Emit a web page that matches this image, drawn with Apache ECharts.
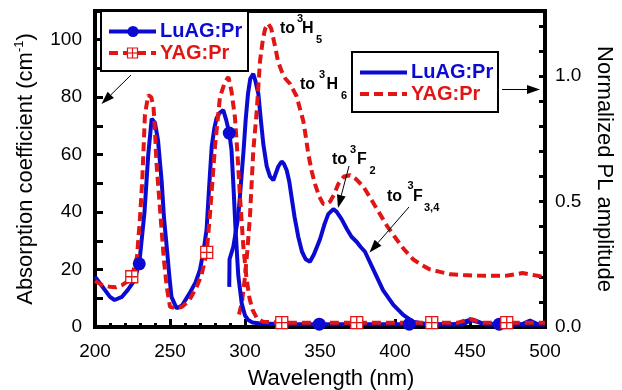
<!DOCTYPE html>
<html>
<head>
<meta charset="utf-8">
<script src="https://cdn.jsdelivr.net/npm/echarts@6/dist/echarts.min.js"></script>
<style>
  html, body { margin: 0; padding: 0; background: #fff; }
  #chart { width: 622px; height: 390px; }
</style>
</head>
<body>
<div id="chart"></div>
<script>
// absorption, left axis (cm^-1)
const luagAbsWl = [200, 205, 210, 213, 218, 222, 226, 229.5, 233, 235.5, 237.8, 240, 242, 244.4, 246, 247.8, 249.5, 251, 254.4, 258, 263, 267, 270, 272.5, 274.4, 276, 277.8, 279.5, 281, 283, 285.5, 287.5, 289.5, 291, 292.2, 293.8, 295.5, 297.8, 300, 302.2, 305, 310, 330, 349.5, 380, 409.5, 440, 450, 458, 469.5, 485, 490, 495, 500]
const luagAbsVal = [17.5, 14, 10.5, 9.4, 10.5, 13, 16, 22, 40, 60, 72.5, 71, 65, 51, 38, 28, 18, 10.5, 6.5, 7.5, 11.7, 15.5, 20, 27, 34, 48, 62.8, 69, 72.6, 74.5, 75.5, 72, 67.5, 61.6, 50, 33, 18, 8.3, 4, 2.4, 1.6, 1.2, 1, 1, 1, 1, 1, 2.5, 1.3, 1, 1, 2.2, 1, 1]
const luagMarkWl = [229.5, 289.5, 349.5, 409.5, 469.5]

const yagAbsWl = [200, 205, 210, 214, 218, 222, 224.5, 228, 230, 231.5, 233.3, 235.5, 237.5, 239, 240, 241, 244.4, 246, 247.8, 250, 254.4, 258, 263, 267.8, 271, 274.5, 276.7, 280, 283.3, 286.7, 289, 291, 293.3, 295, 296.7, 298.9, 301, 303, 305, 308, 312, 324.5, 350, 374.5, 400, 424.5, 442, 450, 458, 474.5, 500]
const yagAbsVal = [16, 14.5, 14, 13.8, 14.6, 16, 17.5, 24.5, 38, 51, 74, 80.7, 80, 76.7, 68, 57, 33.8, 23, 14, 7, 6.5, 7, 9.4, 14, 18, 26, 39.6, 62.8, 80, 85.4, 87, 82, 73, 60, 45, 28, 17, 10, 6, 3, 1.8, 1.5, 1.5, 1.5, 1.5, 1.5, 1.5, 2.8, 1.5, 1.5, 1.5]
const yagMarkWl = [224.5, 274.5, 324.5, 374.5, 424.5, 474.5]

// photoluminescence, right axis (normalized)
const luagPlWl = [289.5, 289.7, 292.2, 295.5, 297, 299, 300.5, 302, 303.5, 305.5, 307, 308.9, 310.5, 312.2, 314.5, 316.7, 318.9, 321, 322.2, 324.4, 326, 327.8, 329.5, 331, 333, 335.5, 338, 340.5, 343.3, 346, 350, 353, 355.5, 358.9, 361, 364.4, 368, 371, 374.4, 377, 380, 385.5, 392, 398.9, 405.5, 412, 421, 430, 445, 452, 460, 500]
const luagPlVal = [0.16, 0.27, 0.32, 0.44, 0.55, 0.7, 0.83, 0.93, 0.99, 1.01, 0.98, 0.93, 0.83, 0.73, 0.64, 0.6, 0.585, 0.62, 0.64, 0.66, 0.65, 0.625, 0.58, 0.52, 0.44, 0.36, 0.3, 0.27, 0.26, 0.29, 0.35, 0.41, 0.45, 0.47, 0.46, 0.43, 0.39, 0.36, 0.34, 0.32, 0.3, 0.23, 0.147, 0.088, 0.048, 0.021, 0.012, 0.01, 0.01, 0.03, 0.01, 0.01]

const yagPlWl = [296, 298, 300, 301.5, 303.3, 305.5, 307.8, 310, 312, 313.5, 315.5, 317.5, 320, 322, 324.4, 327, 330, 334.4, 338.9, 340.5, 342.2, 344.5, 346.7, 349.5, 352.2, 354.5, 356.7, 359.5, 362.2, 366, 370, 374, 378.9, 384, 390, 395, 401, 406, 412, 417, 423, 430, 437, 445.5, 455, 467.8, 475, 485, 490, 498.7, 500]
const yagPlVal = [0.05, 0.1, 0.2, 0.3, 0.44, 0.7, 0.86, 1.06, 1.15, 1.19, 1.21, 1.19, 1.12, 1.06, 1.02, 0.99, 0.97, 0.92, 0.82, 0.76, 0.69, 0.62, 0.57, 0.52, 0.49, 0.49, 0.5, 0.53, 0.57, 0.6, 0.605, 0.59, 0.56, 0.51, 0.45, 0.4, 0.35, 0.31, 0.27, 0.25, 0.23, 0.22, 0.21, 0.207, 0.205, 0.204, 0.205, 0.215, 0.21, 0.2, 0.2]

const BLUE = '#0a0ad2'
const RED = '#e21515'
const FONT = 'Liberation Sans, Arial, sans-serif'
const DASH = [9, 5]
const CROSS_SQ = 'path://M0 0H10V10H0Z M5 0V10 M0 5H10'

const pairs = (xs, ys) => xs.map((x, i) => [x, ys[i]])
// only the marker wavelengths get a symbol
const withMarks = (xs, ys, marks) => xs.map((x, i) => ({
    value: [x, ys[i]],
    symbol: marks.includes(x) ? undefined : 'none'
}))

// little arrow: line + filled head
const arrow = (x1, y1, x2, y2) => {
    const a = Math.atan2(y2 - y1, x2 - x1)
    const L = 13, W = 4.5
    const bx = x2 - L * Math.cos(a), by = y2 - L * Math.sin(a)
    const nx = -Math.sin(a), ny = Math.cos(a)
    return [
        { type: 'line', shape: { x1: x1, y1: y1, x2: bx, y2: by }, style: { stroke: '#000', lineWidth: 1 }, z: 100 },
        { type: 'polygon', shape: { points: [[x2, y2], [bx + nx * W, by + ny * W], [bx - nx * W, by - ny * W]] }, style: { fill: '#000' }, z: 100 }
    ]
}
const txt = (x, y, s, size, color) => ({
    type: 'text', x: x, y: y, z: 100,
    style: { text: s, fill: color || '#000', font: 'bold ' + size + 'px ' + FONT, align: 'left', verticalAlign: 'middle' }
})
// "to ^3X_n" label
const level = (x, y, letter, sub, xs) => [
    txt(x, y, 'to', 16),
    txt(xs[0], y - 10.5, '3', 11),
    txt(xs[1], y, letter, 16),
    txt(xs[2], y + 11, sub, 11)
]

const legendBox = (x, y, w, h, withSymbols) => {
    const els = [
        { type: 'rect', shape: { x: x, y: y, width: w, height: h }, style: { fill: '#fff', stroke: '#000', lineWidth: 2 }, z: 90 }
    ]
    const lx = x + 8, lw = 47
    const y1 = y + 20.5, y2 = y + 42
    els.push({ type: 'line', shape: { x1: lx, y1: y1, x2: lx + lw, y2: y1 }, style: { stroke: BLUE, lineWidth: 4 }, z: 95 })
    els.push({ type: 'line', shape: { x1: lx, y1: y2, x2: lx + lw, y2: y2 }, style: { stroke: RED, lineWidth: 4, lineDash: DASH }, z: 95 })
    if (withSymbols) {
        els.push({ type: 'circle', shape: { cx: lx + 24, cy: y1, r: 5.5 }, style: { fill: BLUE }, z: 96 })
        els.push({ type: 'rect', shape: { x: lx + 18.5, y: y2 - 5, width: 10, height: 10 }, style: { fill: '#fff', stroke: RED, lineWidth: 1.2 }, z: 96 })
        els.push({ type: 'line', shape: { x1: lx + 23.5, y1: y2 - 5, x2: lx + 23.5, y2: y2 + 5 }, style: { stroke: RED, lineWidth: 1.2 }, z: 97 })
        els.push({ type: 'line', shape: { x1: lx + 18.5, y1: y2, x2: lx + 28.5, y2: y2 }, style: { stroke: RED, lineWidth: 1.2 }, z: 97 })
    }
    els.push(txt(lx + lw + 4, y1, 'LuAG:Pr', 20, BLUE))
    els.push(txt(lx + lw + 4, y2, 'YAG:Pr', 20, RED))
    return els
}

const chart = echarts.init(document.getElementById('chart'))

const axisLine = { show: true, lineStyle: { color: '#000', width: 4 } }
const labelStyle = { color: '#000', fontSize: 19, fontFamily: FONT }
const nameStyle = { color: '#000', fontSize: 22, fontFamily: FONT }

const option = {
    animation: false,
    backgroundColor: '#fff',
    grid: {
        left: 95, right: 77, top: 11, bottom: 63,
        outerBoundsMode: 'none',
        show: true, borderColor: '#000', borderWidth: 4, backgroundColor: 'transparent'
    },
    xAxis: {
        type: 'value', min: 200, max: 500, interval: 50,
        name: 'Wavelength (nm)', nameLocation: 'middle', nameGap: 41,
        nameTextStyle: Object.assign({ padding: [0, 0, 0, 22] }, nameStyle),
        axisLine: axisLine,
        axisTick: { show: true, inside: true, length: 8, lineStyle: { color: '#000', width: 3 } },
        minorTick: { show: true, splitNumber: 5, length: 4, lineStyle: { color: '#000', width: 3 } },
        axisLabel: Object.assign({ margin: 15 }, labelStyle),
        splitLine: { show: false }
    },
    yAxis: [
        {
            type: 'value', min: 0, max: 110, interval: 10,
            name: 'Absorption coefficient (cm{sup|-1})', nameLocation: 'middle', nameGap: 53,
            nameTextStyle: Object.assign({
                rich: { sup: { fontSize: 13, fontFamily: FONT, color: '#000', verticalAlign: 'top', lineHeight: 26 } },
                lineHeight: 26
            }, nameStyle),
            axisLine: axisLine,
            axisTick: { show: true, inside: true, length: 8, lineStyle: { color: '#000', width: 3 } },
            axisLabel: Object.assign({ margin: 13, formatter: v => (v % 20 === 0 ? String(v) : '') }, labelStyle),
            splitLine: { show: false }
        },
        {
            type: 'value', min: 0, max: 1.26, interval: 0.1, position: 'right',
            name: 'Normalized PL amplitude', nameLocation: 'middle', nameGap: 48, nameRotate: -90,
            nameTextStyle: nameStyle,
            axisLine: axisLine,
            axisTick: { show: true, inside: true, length: 6, lineStyle: { color: '#000', width: 3 } },
            axisLabel: Object.assign({
                margin: 10,
                formatter: v => {
                    const h = v * 2
                    return Math.abs(h - Math.round(h)) < 1e-6 && v < 1.2 ? v.toFixed(1) : ''
                }
            }, labelStyle),
            splitLine: { show: false }
        }
    ],
    series: [
        {
            name: 'LuAG:Pr PL', type: 'line', yAxisIndex: 1, symbol: 'none',
            data: pairs(luagPlWl, luagPlVal),
            lineStyle: { color: BLUE, width: 4 }, itemStyle: { color: BLUE }
        },
        {
            name: 'YAG:Pr PL', type: 'line', yAxisIndex: 1, symbol: 'none',
            data: pairs(yagPlWl, yagPlVal),
            lineStyle: { color: RED, width: 4, type: DASH }, itemStyle: { color: RED }
        },
        {
            name: 'LuAG:Pr', type: 'line', yAxisIndex: 0,
            symbol: 'circle', symbolSize: 13, showAllSymbol: true,
            data: withMarks(luagAbsWl, luagAbsVal, luagMarkWl),
            lineStyle: { color: BLUE, width: 4 }, itemStyle: { color: BLUE }
        },
        {
            name: 'YAG:Pr', type: 'line', yAxisIndex: 0,
            symbol: CROSS_SQ, symbolSize: 12, showAllSymbol: true,
            data: withMarks(yagAbsWl, yagAbsVal, yagMarkWl),
            lineStyle: { color: RED, width: 4, type: DASH },
            itemStyle: { color: '#fff', borderColor: RED, borderWidth: 1.3 }
        }
    ],
    graphic: [].concat(
        legendBox(101, 11, 147, 60, true),
        legendBox(352, 52, 146, 60, false),
        arrow(131, 75, 101.5, 104),
        arrow(502, 89.5, 540, 89.5),
        arrow(349, 166, 338, 208),
        arrow(409, 207, 369.5, 252.5),
        level(280, 29, 'H', '5', [297, 302, 316]),
        level(300, 85, 'H', '6', [319, 326.5, 341]),
        level(332, 160, 'F', '2', [350, 357, 369.5]),
        level(387, 196.5, 'F', '3,4', [407.5, 413, 424])
    )
}
chart.setOption(option)
</script>
</body>
</html>
